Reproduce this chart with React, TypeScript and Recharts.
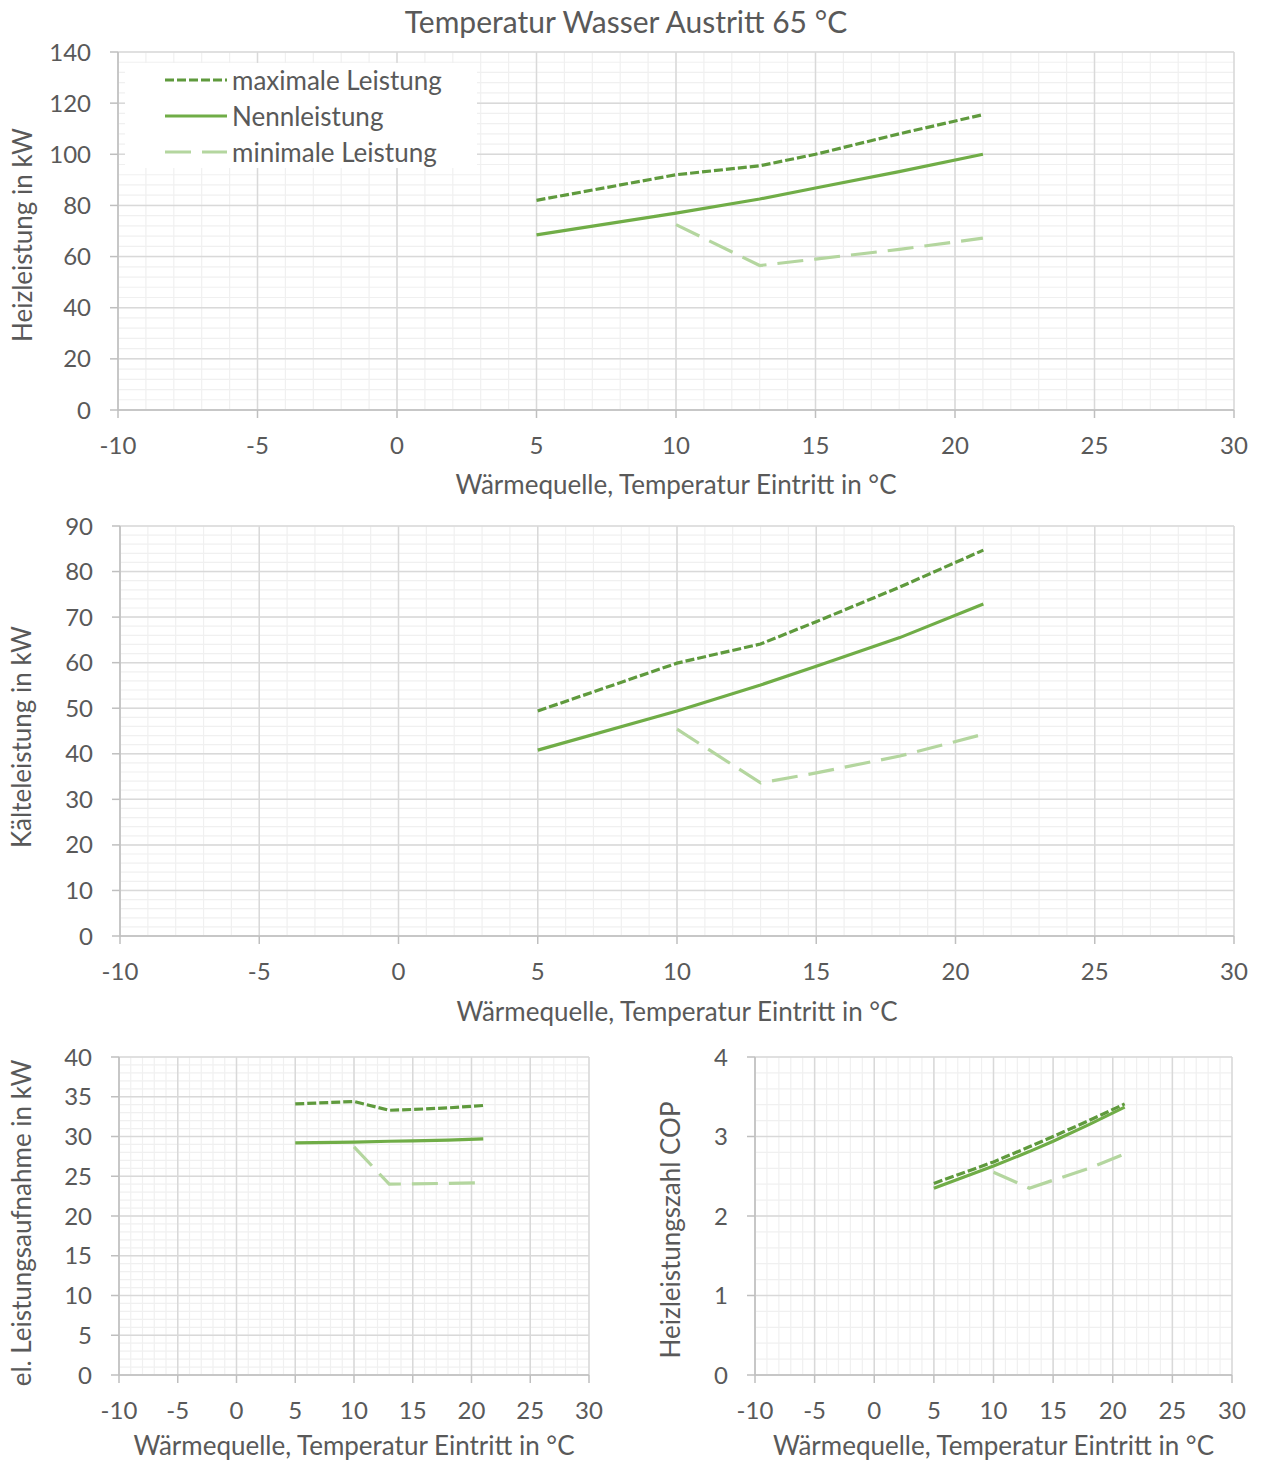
import React from 'react';
import { LineChart, Line, XAxis, YAxis, CartesianGrid } from 'recharts';

const FONT = 'Lato, "Open Sans", sans-serif';
const TEXT = '#595959';
const C_MAX = '#5f9a3d';
const C_NENN = '#70ad47';
const C_MIN = '#b4d69f';

const chartTitle = 'Temperatur Wasser Austritt 65 °C';
const xTitle = 'Wärmequelle, Temperatur Eintritt in °C';
const seriesNames = ['maximale Leistung', 'Nennleistung', 'minimale Leistung'];

const sourceTemps = [5, 10, 13, 15, 18, 21];
const xTicks = [-10, -5, 0, 5, 10, 15, 20, 25, 30];

// Heizleistung in kW
const heizMax = [82, 92, 95.5, 100, 108, 115.5];
const heizNenn = [68.5, 77, 82.5, 86.8, 93.2, 100];
const heizMin = [null, 72.5, 56.5, 59, 62.8, 67.2];
const heizTicks = [0, 20, 40, 60, 80, 100, 120, 140];

// Kälteleistung in kW
const kaltMax = [49.4, 59.9, 64.1, 69, 76.6, 84.7];
const kaltNenn = [40.8, 49.4, 55.1, 59.2, 65.5, 72.9];
const kaltMin = [null, 45.4, 33.6, 35.8, 39.5, 44.3];
const kaltTicks = [0, 10, 20, 30, 40, 50, 60, 70, 80, 90];

// el. Leistungsaufnahme in kW
const elMax = [34.1, 34.4, 33.3, 33.4, 33.6, 33.9];
const elNenn = [29.2, 29.3, 29.4, 29.45, 29.55, 29.7];
const elMin = [null, 28.7, 24.0, 24.05, 24.1, 24.2];
const elTicks = [0, 5, 10, 15, 20, 25, 30, 35, 40];

// Heizleistungszahl COP
const copMax = [2.41, 2.68, 2.87, 3.0, 3.2, 3.41];
const copNenn = [2.35, 2.63, 2.81, 2.94, 3.15, 3.37];
const copMin = [null, 2.55, 2.35, 2.45, 2.6, 2.78];
const copTicks = [0, 1, 2, 3, 4];

function rows(maxA: (number | null)[], nennA: (number | null)[], minA: (number | null)[]) {
  return sourceTemps.map((x, i) => ({ x, max: maxA[i], nenn: nennA[i], min: minA[i] }));
}

function range(a: number, b: number, step: number) {
  const out: number[] = [];
  const n = Math.round((b - a) / step);
  for (let i = 0; i <= n; i++) out.push(+(a + i * step).toFixed(4));
  return out;
}

const xMinor = range(-10, 30, 1);

type PanelProps = {
  left: number; top: number; width: number; height: number;
  plotTop: number; plotLeft: number; plotRight: number; plotBottom: number;
  yDomain: [number, number]; yTicks: number[]; yMinor: number[];
  data: any[]; yLabel: string; yLabelX: number; yLabelShift: number; xLabelBaseline: number;
};

function Panel(p: PanelProps) {
  const margin = { top: p.plotTop, right: p.width - p.plotRight, bottom: 0, left: 0 };
  const xAxisHeight = p.height - p.plotBottom;
  const tickStyle = { fill: TEXT, fontSize: 24 };
  return (
    <div style={{ position: 'absolute', left: p.left, top: p.top, width: p.width, height: p.height }}>
      <LineChart width={p.width} height={p.height} data={p.data} margin={margin}>
        <CartesianGrid stroke="#f0f0f0" strokeWidth={1.2} horizontalValues={p.yMinor} verticalValues={xMinor} />
        <CartesianGrid stroke="#d9d9d9" strokeWidth={1.5} />
        <XAxis
          type="number"
          dataKey="x"
          domain={[-10, 30]}
          ticks={xTicks}
          interval={0}
          allowDataOverflow
          height={xAxisHeight}
          tickSize={8}
          tickMargin={19}
          stroke="#bfbfbf"
          strokeWidth={1.5}
          tick={tickStyle}
          label={{ value: xTitle, position: 'insideBottom', offset: p.height - p.xLabelBaseline, fill: TEXT, fontSize: 26 }}
        />
        <YAxis
          type="number"
          domain={p.yDomain}
          ticks={p.yTicks}
          interval={0}
          allowDataOverflow
          width={p.plotLeft}
          tickSize={8}
          tickMargin={19}
          stroke="#bfbfbf"
          strokeWidth={1.5}
          tick={tickStyle}
          label={{ value: p.yLabel, angle: -90, position: 'insideLeft', offset: p.yLabelX, dy: p.yLabelShift, fill: TEXT, fontSize: 26, style: { textAnchor: 'middle' } }}
        />
        <Line dataKey="min" name={seriesNames[2]} stroke={C_MIN} strokeWidth={3.2} strokeDasharray="26 11" dot={false} activeDot={false} isAnimationActive={false} />
        <Line dataKey="nenn" name={seriesNames[1]} stroke={C_NENN} strokeWidth={3.2} dot={false} activeDot={false} isAnimationActive={false} />
        <Line dataKey="max" name={seriesNames[0]} stroke={C_MAX} strokeWidth={3.2} strokeDasharray="9 3" dot={false} activeDot={false} isAnimationActive={false} />
      </LineChart>
    </div>
  );
}

function LegendBox() {
  const items = [
    { name: seriesNames[0], color: C_MAX, dash: '9 3' },
    { name: seriesNames[1], color: C_NENN, dash: undefined },
    { name: seriesNames[2], color: C_MIN, dash: '26 11' },
  ];
  return (
    <div style={{ position: 'absolute', left: 125, top: 63, width: 352, height: 105, background: '#fff' }}>
      {items.map((it, i) => (
        <div key={it.name} style={{ position: 'absolute', left: 0, top: 17 + i * 36 - 18, height: 36, width: 352 }}>
          <svg width={64} height={36} style={{ position: 'absolute', left: 40, top: 0 }}>
            <line x1={0} y1={18} x2={62} y2={18} stroke={it.color} strokeWidth={3.2} strokeDasharray={it.dash} />
          </svg>
          <span style={{ position: 'absolute', left: 107, top: 0, lineHeight: '36px', fontSize: 26, color: TEXT, whiteSpace: 'nowrap' }}>{it.name}</span>
        </div>
      ))}
    </div>
  );
}

export default function App() {
  return (
    <div style={{ position: 'absolute', left: 0, top: 0, width: 1261, height: 1462, background: '#fff', fontFamily: FONT, overflow: 'hidden' }}>
      <div style={{ position: 'absolute', left: 0, top: 3, width: 1252, textAlign: 'center', fontSize: 30, lineHeight: '36px', color: TEXT }}>{chartTitle}</div>
      <Panel
        left={0} top={0} width={1261} height={505}
        plotTop={52} plotLeft={118} plotRight={1234} plotBottom={410}
        yDomain={[0, 140]} yTicks={heizTicks} yMinor={range(0, 140, 4)}
        data={rows(heizMax, heizNenn, heizMin)} yLabel="Heizleistung in kW" yLabelX={23} yLabelShift={4} xLabelBaseline={494}
      />
      <LegendBox />
      <Panel
        left={0} top={505} width={1261} height={530}
        plotTop={21} plotLeft={120} plotRight={1234} plotBottom={431}
        yDomain={[0, 90]} yTicks={kaltTicks} yMinor={range(0, 90, 2)}
        data={rows(kaltMax, kaltNenn, kaltMin)} yLabel="Kälteleistung in kW" yLabelX={22} yLabelShift={6} xLabelBaseline={516}
      />
      <Panel
        left={0} top={1035} width={620} height={427}
        plotTop={22} plotLeft={119} plotRight={589} plotBottom={340}
        yDomain={[0, 40]} yTicks={elTicks} yMinor={range(0, 40, 1)}
        data={rows(elMax, elNenn, elMin)} yLabel="el. Leistungsaufnahme in kW" yLabelX={22} yLabelShift={7} xLabelBaseline={420}
      />
      <Panel
        left={640} top={1035} width={621} height={427}
        plotTop={22} plotLeft={115} plotRight={592} plotBottom={340}
        yDomain={[0, 4]} yTicks={copTicks} yMinor={range(0, 4, 0.2)}
        data={rows(copMax, copNenn, copMin)} yLabel="Heizleistungszahl COP" yLabelX={31} yLabelShift={14} xLabelBaseline={420}
      />
    </div>
  );
}
